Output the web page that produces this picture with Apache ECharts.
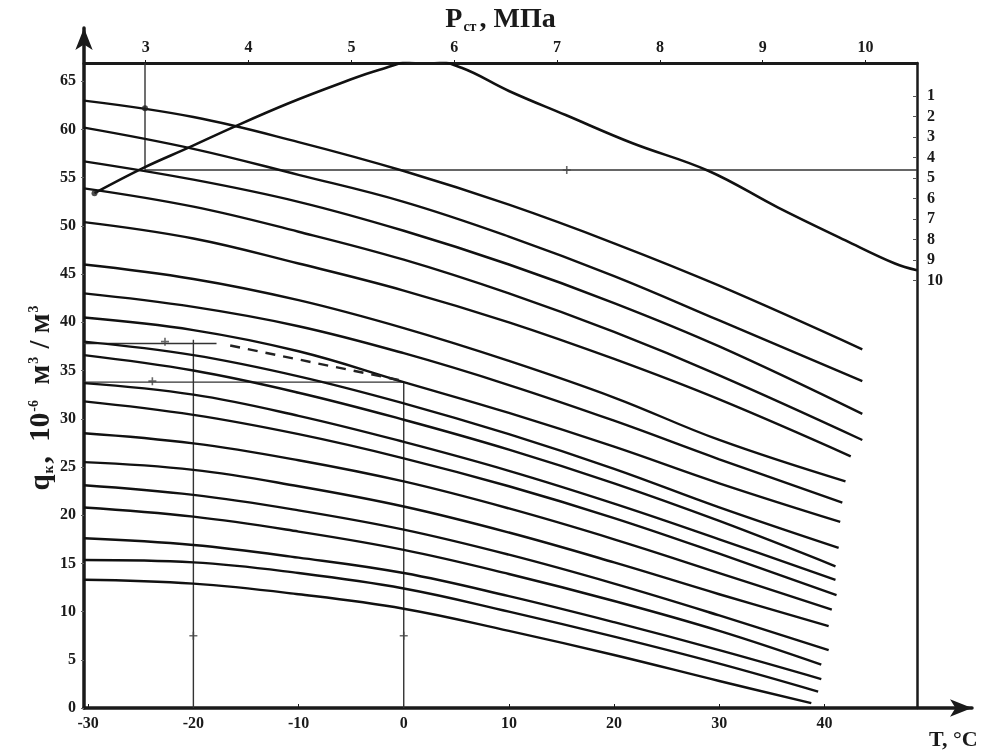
<!DOCTYPE html>
<html>
<head>
<meta charset="utf-8">
<script src="https://cdn.jsdelivr.net/npm/echarts@6/dist/echarts.min.js"></script>
<style>
html,body{margin:0;padding:0;background:#fff;}
#chart{width:996px;height:755px;}
</style>
</head>
<body>
<div id="chart"></div>
<script>
// ---- data ----
const tempSteps = [-30.4, -20, -10, 0, 10, 20, 30];
const curveQ = [
  [63.0, 61.3, 58.7, 55.7, 52.2, 48.2, 43.8],
  [60.2, 58.0, 55.3, 52.5, 48.9, 44.8, 40.2],
  [56.7, 54.8, 52.5, 49.5, 46.0, 42.0, 37.5],
  [53.9, 52.0, 49.4, 46.5, 43.0, 39.0, 34.5],
  [50.4, 48.7, 46.1, 43.3, 40.0, 36.2, 32.0],
  [46.0, 44.5, 42.3, 39.4, 36.0, 32.2, 27.8],
  [43.0, 41.6, 39.6, 36.8, 33.5, 29.8, 25.8],
  [40.5, 39.2, 37.0, 33.8, 30.6, 27.1, 23.3],
  [38.0, 36.6, 34.4, 31.6, 28.4, 24.8, 20.8],
  [36.6, 35.0, 32.7, 29.9, 26.8, 23.3, 19.4],
  [33.7, 32.5, 30.3, 27.6, 24.6, 21.2, 17.5],
  [31.8, 30.4, 28.4, 25.9, 23.0, 19.7, 16.0],
  [28.5, 27.45, 25.7, 23.5, 20.7, 17.5, 14.0],
  [25.5, 24.7, 23.0, 20.9, 18.2, 15.1, 11.8],
  [23.1, 22.1, 20.5, 18.5, 15.9, 12.9, 9.6],
  [20.8, 19.85, 18.3, 16.4, 13.9, 11.1, 8.0],
  [17.6, 16.9, 15.6, 14.0, 11.6, 8.9, 6.0],
  [15.35, 15.1, 14.0, 12.4, 10.0, 7.4, 4.6],
  [13.3, 12.9, 11.8, 10.3, 8.0, 5.5, 2.8]
];
const endT = [43.6, 43.6, 43.6, 43.6, 42.5, 42.0, 41.7, 41.5, 41.35, 41.05, 41.05, 41.15, 40.7, 40.4, 40.4, 39.7, 39.7, 39.4, 38.75];
const endQ = [37.2, 33.9, 30.5, 27.8, 26.1, 23.5, 21.3, 19.3, 16.6, 14.7, 13.3, 11.7, 10.2, 8.5, 6.0, 4.5, 3.0, 1.7, 0.5];

const pCurveT = [-29.4, -24.8, -20.3, -16.3, -11, -6, -2.3, 2.0, 5.5, 10, 15.4, 21.7, 29.0, 35.6, 42.0, 46.7, 48.8];
const pCurveQ = [53.4, 56.0, 58.2, 60.2, 62.7, 64.8, 66.2, 67.3, 66.4, 64.0, 61.5, 58.6, 55.7, 51.9, 48.5, 46.1, 45.4];

const guideLines = [
  [[-24.6, 66.9], [-24.6, 55.8]],
  [[-24.6, 55.8], [48.8, 55.8]],
  [[-30.4, 37.8], [-17.8, 37.8]],
  [[-20, 38.2], [-20, 0]],
  [[-30.4, 33.8], [0, 33.8]],
  [[0, 33.8], [0, 0]]
];
const dashedLine = [[-16.5, 37.6], [-0.4, 34.0]];
const crossMarks = [[15.5, 55.8], [-22.7, 38.0], [-23.9, 33.9], [-20, 7.5], [0, 7.5]];
const dotMarks = [[-24.6, 62.2], [-29.4, 53.4]];

const tTicks = [-30, -20, -10, 0, 10, 20, 30, 40];
const qTicks = [0, 5, 10, 15, 20, 25, 30, 35, 40, 45, 50, 55, 60, 65];
const pTicks = [3, 4, 5, 6, 7, 8, 9, 10];
const curveNumbers = [1, 2, 3, 4, 5, 6, 7, 8, 9, 10];

// ---- chart ----
const FONT = 'Liberation Serif';
const labelStyle = {fontFamily: FONT, fontWeight: 'bold', fontSize: 16, color: '#1a1a1a'};
const AX = '#1a1a1a';

const series = [];
curveQ.forEach(function (vals, i) {
  const data = tempSteps.map(function (t, k) { return [t, vals[k]]; });
  data.push([endT[i], endQ[i]]);
  series.push({
    type: 'line', xAxisIndex: 0, yAxisIndex: 0, data: data,
    smooth: 0.4, showSymbol: false, symbol: 'none',
    lineStyle: {color: '#111', width: 2.4}, z: 3, silent: true
  });
});
series.push({
  type: 'line', xAxisIndex: 0, yAxisIndex: 0,
  data: pCurveT.map(function (t, k) { return [t, pCurveQ[k]]; }),
  smooth: 0.4, symbol: 'none', lineStyle: {color: '#111', width: 2.6}, z: 4, silent: true
});
guideLines.forEach(function (seg) {
  series.push({
    type: 'line', xAxisIndex: 0, yAxisIndex: 0, data: seg, symbol: 'none',
    lineStyle: {color: '#333', width: 1.4}, z: 2, silent: true
  });
});
series.push({
  type: 'line', xAxisIndex: 0, yAxisIndex: 0, data: dashedLine, symbol: 'none',
  lineStyle: {color: '#222', width: 2.4, type: [10, 8]}, z: 3, silent: true
});
series.push({
  type: 'scatter', xAxisIndex: 0, yAxisIndex: 0, data: crossMarks,
  symbol: 'path://M4,0 L6,0 L6,4 L10,4 L10,6 L6,6 L6,10 L4,10 L4,6 L0,6 L0,4 L4,4 Z',
  symbolSize: 8, itemStyle: {color: '#444'}, z: 5, silent: true
});
series.push({
  type: 'scatter', xAxisIndex: 0, yAxisIndex: 0, data: dotMarks,
  symbol: 'circle', symbolSize: 6, itemStyle: {color: '#222'}, z: 5, silent: true
});

const option = {
  backgroundColor: '#fff',
  animation: false,
  grid: [
    {left: 84, right: 79, top: 63, bottom: 47, containLabel: false, outerBoundsMode: 'none'},
    {left: 84, right: 24, top: 28, bottom: 47, containLabel: false, outerBoundsMode: 'none'}
  ],
  xAxis: [
    {
      type: 'value', gridIndex: 0, position: 'bottom', min: -30.4, max: 48.8,
      axisLine: {show: false, onZero: false},
      axisTick: {show: true, inside: true, length: 4, customValues: tTicks, lineStyle: {color: AX}},
      axisLabel: Object.assign({customValues: tTicks, margin: 8}, labelStyle),
      splitLine: {show: false}
    },
    {
      type: 'value', gridIndex: 0, position: 'top', min: 2.4, max: 10.5,
      axisLine: {show: true, onZero: false, lineStyle: {color: AX, width: 3}},
      axisTick: {show: true, length: 3, customValues: pTicks, lineStyle: {color: AX}},
      axisLabel: Object.assign({customValues: pTicks, margin: 7}, labelStyle),
      splitLine: {show: false},
      name: '{b|P}{s|ст}{b|, МПа}', nameLocation: 'middle', nameGap: 43, nameMoveOverlap: false,
      nameTextStyle: {
        verticalAlign: 'middle',
        rich: {
          b: {fontFamily: FONT, fontWeight: 'bold', fontSize: 28, color: '#1a1a1a'},
          s: {fontFamily: FONT, fontWeight: 'bold', fontSize: 14, color: '#1a1a1a', verticalAlign: 'bottom', padding: [13, 3, 0, 1]}
        }
      }
    },
    {
      type: 'value', gridIndex: 1, position: 'bottom', min: 0, max: 1,
      axisLine: {show: true, onZero: false, symbol: ['none', 'arrow'], symbolSize: [13, 22], lineStyle: {color: AX, width: 3.5}},
      axisTick: {show: false}, axisLabel: {show: false}, splitLine: {show: false},
      name: 'T, °C', nameLocation: 'end', nameGap: -43, nameMoveOverlap: false,
      nameTextStyle: {fontFamily: FONT, fontWeight: 'bold', fontSize: 22, color: '#1a1a1a', align: 'left', verticalAlign: 'top', padding: [21, 0, 0, 0]}
    }
  ],
  yAxis: [
    {
      type: 'value', gridIndex: 0, position: 'left', min: 0, max: 66.9,
      axisLine: {show: false, onZero: false},
      axisTick: {show: true, length: 3, customValues: qTicks, lineStyle: {color: '#666'}},
      axisLabel: Object.assign({customValues: qTicks, margin: 8}, labelStyle),
      splitLine: {show: false},
      name: '{b|q}{s|к}{b|,  10}{p|-6}{b|  м}{p|3}{b| / м}{p|3}', nameLocation: 'middle', nameGap: 42, nameRotate: 90,
      nameMoveOverlap: false,
      nameTextStyle: {
        verticalAlign: 'middle',
        padding: [0, 24, 0, 0],
        rich: {
          b: {fontFamily: FONT, fontWeight: 'bold', fontSize: 29, color: '#1a1a1a'},
          s: {fontFamily: FONT, fontWeight: 'bold', fontSize: 14, color: '#1a1a1a', verticalAlign: 'bottom', padding: [13, 2, 0, 1]},
          p: {fontFamily: FONT, fontWeight: 'bold', fontSize: 14, color: '#1a1a1a', verticalAlign: 'top', padding: [0, 1, 13, 1]}
        }
      }
    },
    {
      type: 'value', gridIndex: 0, position: 'right', inverse: true, min: -0.61, max: 30.85,
      axisLine: {show: true, onZero: false, lineStyle: {color: AX, width: 2.5}},
      axisTick: {show: true, inside: true, length: 4, customValues: curveNumbers, lineStyle: {color: '#555'}},
      axisLabel: Object.assign({customValues: curveNumbers, margin: 10, align: 'left'}, labelStyle),
      splitLine: {show: false}
    },
    {
      type: 'value', gridIndex: 1, position: 'left', min: 0, max: 1,
      axisLine: {show: true, onZero: false, symbol: ['none', 'arrow'], symbolSize: [13, 22], lineStyle: {color: AX, width: 3.5}},
      axisTick: {show: false}, axisLabel: {show: false}, splitLine: {show: false}
    }
  ],
  series: series
};

const chart = echarts.init(document.getElementById('chart'), null, {renderer: 'canvas'});
chart.setOption(option);
</script>
</body>
</html>
